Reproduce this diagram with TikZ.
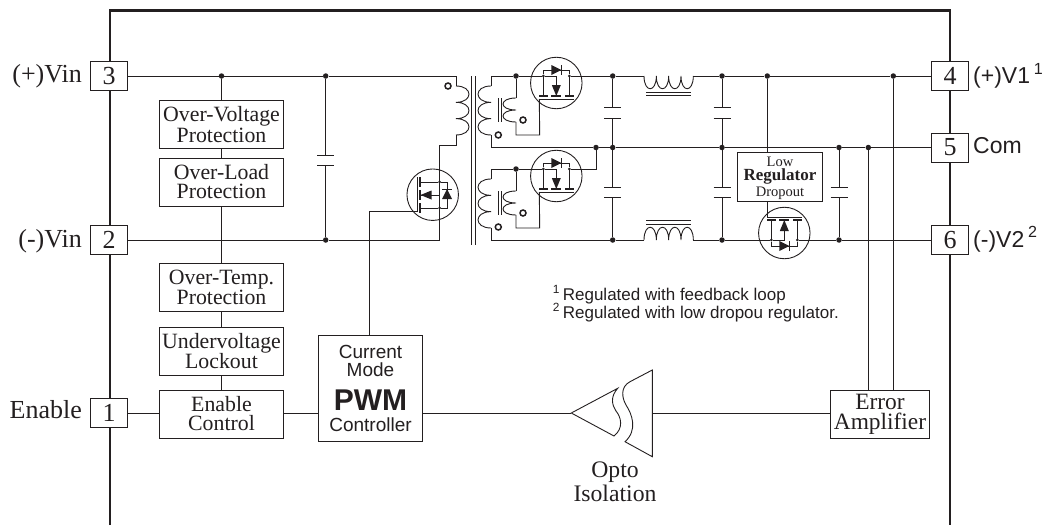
\documentclass[tikz,border=0pt]{standalone}
\usepackage{fontspec}
\setmainfont{Liberation Serif}
\setsansfont{Liberation Sans}
\usetikzlibrary{positioning}

\definecolor{ink}{HTML}{231F20}

\tikzset{
  wire/.style={draw=ink, line width=0.9pt},
  frameline/.style={draw=ink, line width=2.2pt},
  block/.style={draw=ink, line width=1pt, fill=white, inner sep=0pt, align=center,
    text=ink, minimum width=124.5pt, minimum height=48pt, font=\fontsize{21.8}{19}\selectfont},
  pinbox/.style={draw=ink, line width=1pt, fill=white, inner sep=0pt, text=ink,
    minimum width=37pt, minimum height=29pt, font=\fontsize{26}{26}\selectfont},
  junction/.style={circle, fill=ink, inner sep=0pt, minimum size=5.5pt},
  tinyjunction/.style={circle, fill=ink, inner sep=0pt, minimum size=3pt},
  ring/.style={circle, draw=ink, line width=1.5pt, fill=white, inner sep=0pt, minimum size=6pt},
  fetring/.style={circle, draw=ink, line width=0.9pt, inner sep=0pt, minimum size=51.5pt},
  seriflabel/.style={inner sep=0pt, text=ink, align=center, font=\fontsize{26}{24}\selectfont},
  sanslabel/.style={inner sep=0pt, text=ink, font=\sffamily\fontsize{23}{23}\selectfont},
  notelabel/.style={inner sep=0pt, text=ink, align=left, font=\sffamily\fontsize{17}{18}\selectfont},
}

% coil with bumps running downwards: start, count, control offset, step
\newcommand{\vcoil}[4]{\draw[wire] (#1) \foreach \n in {1,...,#2}{ .. controls +(#3,0) and +(#3,0) .. ++(0,#4)};}
% coil with bumps running to the right: start, count, control offset, step
\newcommand{\hcoil}[4]{\draw[wire] (#1) \foreach \n in {1,...,#2}{ .. controls +(0,#3) and +(0,#3) .. ++(#4,0)};}
% capacitor between two junctions: top, bottom, y of the upper plate
\newcommand{\capv}[3]{
  \draw[wire] (#1) -- (#1 |- 0,#3) +(-8.5,0) -- +(8.5,0);
  \draw[wire] (#2) -- (#2 |- 0,#3+10.5) +(-8.5,0) -- +(8.5,0);
}
% output switch: name, centre, yscale
\newcommand{\hfet}[3]{
  \begin{scope}[shift={(#2)}, yscale=#3]
    \node[fetring] (#1) at (0,0) {};
    \node[tinyjunction] (#1s) at (-13,-7) {};
    \node[tinyjunction] (#1d) at (13,-7) {};
    \coordinate (#1g) at (-17,16);
    \draw[wire] (#1s) -- (-13,-13) -- (13,-13) -- (#1d);
    \fill[ink] (-5,-18) -- (5,-13) -- (-5,-8) -- cycle;
    \draw[wire] (5,-18) -- (5,-8);
    \draw[wire] (-13,-7) -- (-13,13);
    \draw[wire] (13,-7) -- (13,13);
    \draw[wire] (#1s) -- (0,-7) -- (0,13);
    \fill[ink] (-4.5,2) -- (4.5,2) -- (0,13) -- cycle;
    \draw[wire, line width=1.3pt] (-17,13) -- (-8,13);
    \draw[wire, line width=1.3pt] (-5,13) -- (5,13);
    \draw[wire, line width=1.3pt] (9,13) -- (18,13);
    \draw[wire] (#1g) -- (18,16);
  \end{scope}
}

\begin{document}
\begin{tikzpicture}[x=1pt, y=-1pt]
  \useasboundingbox (0,0) rectangle (1044,525);

  % module outline
  \draw[frameline] (110,525) -- (110,10.5) -- (950,10.5) -- (950,525);

  % pins
  \node[pinbox] (pin3) at (109,76) {3};
  \node[pinbox] (pin2) at (109,240) {2};
  \node[pinbox] (pin1) at (109,413) {1};
  \node[pinbox] (pin4) at (950,76) {4};
  \node[pinbox] (pin5) at (950,147.5) {5};
  \node[pinbox] (pin6) at (950,240) {6};

  \node[seriflabel, anchor=base east] (vinplus) at (82,82) {(+)Vin};
  \node[seriflabel, anchor=base east] (vinminus) at (82,247) {(-)Vin};
  \node[seriflabel, anchor=base east] (enable) at (82,418) {Enable};
  \node[sanslabel, anchor=base west] (vone) at (973,83.5) {(+)V1\,\textsuperscript{1}};
  \node[sanslabel, anchor=base west] (com) at (973,153) {Com};
  \node[sanslabel, anchor=base west] (vtwo) at (973,247) {(-)V2\,\textsuperscript{2}};

  % protection chain
  \node[block] (ovp) at (221.5,124.5) {Over-Voltage\\Protection};
  \node[block] (olp) at (221.5,182) {Over-Load\\Protection};
  \node[block] (otp) at (221.5,287) {Over-Temp.\\Protection};
  \node[block] (uvl) at (221.5,351) {Undervoltage\\Lockout};
  \node[block] (enc) at (221.5,414) {Enable\\Control};

  \node[draw=ink, line width=1pt, fill=white, minimum width=103.5pt, minimum height=106pt] (pwm) at (370.5,388.7) {};
  \node[inner sep=0pt, text=ink, align=center, font=\sffamily\fontsize{19}{18.7}\selectfont, anchor=base] (pwmtop) at (370.5,376.7) {Current\\Mode};
  \node[inner sep=0pt, text=ink, font=\sffamily\bfseries\fontsize{30}{30}\selectfont, anchor=base] (pwmmid) at (370.5,410) {PWM};
  \node[inner sep=0pt, text=ink, font=\sffamily\fontsize{19}{19}\selectfont, anchor=base] (pwmlow) at (370.5,431) {Controller};

  \node[block, minimum width=98.6pt] (err) at (880,414) {};
  \node[inner sep=0pt, text=ink, align=center, font=\fontsize{23.4}{20}\selectfont, anchor=base] (errtext) at (880,429) {Error\\Amplifier};

  % junctions
  \node[junction] (jvin) at (221.5,76) {};
  \node[junction] (jcapa) at (325.7,76) {};
  \node[junction] (jcapb) at (325.7,240) {};
  \node[junction] (jauxa) at (516,76) {};
  \node[junction] (jauxb) at (516,169) {};
  \node[junction] (jfeta) at (596,147.5) {};
  \foreach \name/\xpos/\ypos in {jma/612.7/76, jmb/612.7/147.5, jmc/612.7/240, jna/722/76, jnb/722/147.5, jnc/722/240, jldo/767.3/76, jpb/839/147.5, jpc/839/240, jfba/868.3/147.5, jfbb/893.3/76}
    \node[junction] (\name) at (\xpos,\ypos) {};

  % input side
  \draw[wire] (jvin) -- (ovp);
  \draw[wire] (ovp) -- (olp);
  \draw[wire] (olp) -- (otp);
  \draw[wire] (otp) -- (uvl);
  \draw[wire] (uvl) -- (enc);
  \draw[wire] (pin1) -- (pin1 -| enc.west);
  \draw[wire] (pin1 -| enc.east) -- (pin1 -| pwm.west);
  \capv{jcapa}{jcapb}{155}

  % primary winding and its switch
  \coordinate (pria) at (456,86);
  \coordinate (prib) at (456,135);
  \coordinate (pric) at (439.5,145);
  \draw[wire] (pin3) -- (jvin) -- (jcapa) -- (456,76) -- (pria);
  \vcoil{pria}{3}{17.3}{16.33}
  \draw[wire] (prib) -- (456,145) -- (pric) -- (439.5,240) -- (jcapb) -- (pin2);
  \node[ring] (dotp) at (448,86) {};
  \draw[wire, line width=1.1pt] (471.7,76) -- (471.7,245);
  \draw[wire, line width=1.1pt] (475.3,76) -- (475.3,245);

  \node[fetring] (fetp) at (432.7,194.7) {};
  \node[tinyjunction] (fetpd) at (439.5,182) {};
  \node[tinyjunction] (fetps) at (439.5,208) {};
  \coordinate (fetpg) at (417.3,211.3);
  \draw[wire] (pwm.north -| 369.7,0) -- (369.7,211.3) -- (fetpg) -- (417.3,177);
  \draw[wire, line width=1.3pt] (420,177) -- (420,187);
  \draw[wire, line width=1.3pt] (420,190) -- (420,200);
  \draw[wire, line width=1.3pt] (420,203) -- (420,212.5);
  \draw[wire] (420,182) -- (fetpd);
  \draw[wire] (420,208) -- (fetps);
  \draw[wire] (420,195) -- (439.5,195);
  \fill[ink] (420.5,195) -- (431.5,190.5) -- (431.5,199.5) -- cycle;
  \draw[wire] (fetpd) -- (447,182) -- (447,208) -- (fetps);
  \fill[ink] (447,189) -- (442,199) -- (452,199) -- cycle;
  \draw[wire] (442,189) -- (452,189);

  % secondary windings
  \coordinate (seca) at (491,86);
  \coordinate (secb) at (491,135);
  \coordinate (secc) at (491,179);
  \coordinate (secd) at (491,228);
  \vcoil{seca}{3}{-17.3}{16.33}
  \vcoil{secc}{3}{-17.3}{16.33}
  \node[ring] (dots) at (498.3,135) {};
  \node[ring] (dotu) at (498.3,227) {};

  \hfet{feta}{556.3,83}{1}
  \hfet{fetb}{556.3,176}{1}
  \hfet{fetc}{784.3,233}{-1}

  % auxiliary windings driving the gates
  \foreach \top/\gate/\yoff/\tag in {jauxa/fetag/0/a, jauxb/fetbg/93/b}{
    \draw[wire] (\top) -- (516,98+\yoff);
    \vcoil{516,98+\yoff}{2}{-17.3}{12}
    \draw[wire] (516,122+\yoff) -- (516,135+\yoff) -- (539.7,135+\yoff) -- (\gate);
    \draw[wire, line width=1.1pt] (498.2,98+\yoff) -- (498.2,122+\yoff);
    \draw[wire, line width=1.1pt] (501.6,98+\yoff) -- (501.6,122+\yoff);
    \node[ring] (dot\tag) at (523,120+\yoff) {};
  }

  % output rails
  \draw[wire] (seca) -- (491,76) -- (jauxa) -- (fetas);
  \draw[wire] (fetad) -- (jma) -- (644,76);
  \hcoil{644,76}{4}{17}{12.33}
  \draw[wire] (693.3,76) -- (jna) -- (jldo) -- (jfbb) -- (pin4);
  \draw[wire] (secb) -- (491,147.5) -- (jfeta) -- (jmb) -- (jnb) -- (jpb) -- (jfba) -- (pin5);
  \draw[wire] (secc) -- (491,169) -- (jauxb) -- (fetbs);
  \draw[wire] (fetbd) -- (596,169) -- (jfeta);
  \draw[wire] (secd) -- (491,240) -- (jmc) -- (644,240);
  \hcoil{644,240}{4}{-17}{12.33}
  \draw[wire] (693.3,240) -- (jnc) -- (fetcs);
  \draw[wire] (fetcd) -- (jpc) -- (pin6);
  \foreach \ypos in {92.3, 95.7, 220.5, 224}
    \draw[wire] (646,\ypos) -- (691,\ypos);

  \capv{jma}{jmb}{107.7}
  \capv{jmb}{jmc}{187}
  \capv{jna}{jnb}{107.7}
  \capv{jnb}{jnc}{187}
  \capv{jpb}{jpc}{187}

  % low dropout regulator
  \node[draw=ink, line width=1.3pt, fill=white, minimum width=85.4pt, minimum height=49.4pt] (ldo) at (780,177) {};
  \node[inner sep=0pt, text=ink, font=\fontsize{14.5}{14.5}\selectfont, anchor=base] (ldoa) at (780,166.7) {Low};
  \node[inner sep=0pt, text=ink, font=\bfseries\fontsize{17}{17}\selectfont, anchor=base] (ldob) at (780,180.7) {Regulator};
  \node[inner sep=0pt, text=ink, font=\fontsize{14.5}{14.5}\selectfont, anchor=base] (ldoc) at (780,196) {Dropout};
  \draw[wire] (jldo) -- (jldo |- ldo.north);
  \draw[wire] (fetcg |- ldo.south) -- (fetcg);

  % feedback
  \draw[wire] (jfba) -- (jfba |- err.north);
  \draw[wire] (jfbb) -- (jfbb |- err.north);

  % opto coupler
  \coordinate (optol) at (571.3,413);
  \coordinate (optor) at (652.3,413);
  \draw[wire] (optol) -- (617.7,388.3) .. controls (610,397) and (612,405) .. (616,411)
    .. controls (621,417) and (624,428) .. (614,436) -- cycle;
  \draw[wire] (652.3,370) -- (630,381.7) .. controls (620,387) and (622,398) .. (626,405)
    .. controls (632,414) and (638,430) .. (625,441.7) -- (652.3,456.7) -- cycle;
  \draw[wire] (pwm.east |- optol) -- (optol);
  \draw[wire] (optor) -- (optor -| err.west);
  \node[seriflabel, font=\fontsize{23.7}{24}\selectfont, anchor=base] (opto) at (615,501.7) {Opto\\Isolation};

  % notes
  \node[notelabel, anchor=base west] (notea) at (552.7,300) {\textsuperscript{1}\,Regulated with feedback loop};
  \node[notelabel, anchor=base west] (noteb) at (552.7,318) {\textsuperscript{2}\,Regulated with low dropou regulator.};
\end{tikzpicture}
\end{document}
